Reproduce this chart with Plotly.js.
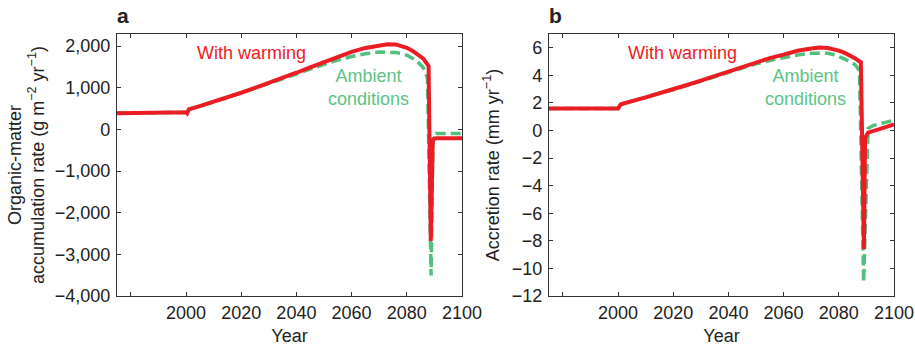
<!DOCTYPE html>
<html>
<head>
<meta charset="utf-8">
<script src="https://cdn.plot.ly/plotly-3.0.1.min.js"></script>
<style>html,body{margin:0;padding:0;background:#fff}#chart{width:915px;height:346px}</style>
</head>
<body>
<div id="chart"></div>
<script>
// Panel a: organic-matter accumulation rate (g m-2 yr-1)
const omWarmYears = [1975, 1990, 1991, 2000, 2000.4, 2001, 2005, 2010, 2015, 2020, 2025, 2030, 2035, 2040, 2045, 2050, 2055, 2060, 2065, 2070, 2073, 2076, 2078, 2080, 2082, 2084, 2086, 2087.9, 2088.7, 2089.4, 2090, 2091, 2100];
const omWarm      = [390, 390, 410, 410, 385, 480, 560, 660, 770, 880, 995, 1110, 1235, 1360, 1490, 1620, 1745, 1860, 1955, 2020, 2045, 2040, 2010, 1960, 1890, 1800, 1700, 1520, -2680, -280, -215, -210, -210];
const omAmbYears  = [1975, 1990, 1991, 2000, 2000.4, 2001, 2005, 2010, 2015, 2020, 2025, 2030, 2035, 2040, 2045, 2050, 2055, 2060, 2065, 2070, 2073, 2076, 2078, 2080, 2082, 2084, 2086, 2087.5, 2088.8, 2089.5, 2090.5, 2100];
const omAmb       = [390, 390, 410, 410, 385, 480, 560, 655, 765, 875, 985, 1100, 1215, 1330, 1450, 1560, 1665, 1750, 1815, 1855, 1860, 1845, 1820, 1780, 1710, 1620, 1480, 1230, -3510, -150, -100, -100];

// Panel b: accretion rate (mm yr-1)
const acWarmYears = [1975, 2000, 2001, 2005, 2010, 2015, 2020, 2025, 2030, 2035, 2040, 2045, 2050, 2055, 2060, 2065, 2070, 2073, 2076, 2078, 2080, 2082, 2084, 2086, 2088.0, 2089.1, 2089.5, 2090.6, 2095, 2100];
const acWarm      = [1.6, 1.6, 1.9, 2.1, 2.4, 2.7, 2.97, 3.3, 3.62, 3.95, 4.3, 4.62, 4.95, 5.25, 5.5, 5.78, 5.95, 6.02, 5.98, 5.92, 5.8, 5.65, 5.45, 5.22, 4.95, -8.6, -0.55, -0.15, 0.12, 0.45];
const acAmbYears  = [1975, 2000, 2001, 2005, 2010, 2015, 2020, 2025, 2030, 2035, 2040, 2045, 2050, 2055, 2060, 2065, 2070, 2073, 2076, 2078, 2080, 2082, 2084, 2086, 2087.5, 2089.0, 2090.6, 2092.4, 2100];
const acAmb       = [1.6, 1.6, 1.9, 2.1, 2.4, 2.7, 2.95, 3.27, 3.58, 3.9, 4.22, 4.53, 4.83, 5.08, 5.3, 5.48, 5.6, 5.63, 5.6, 5.52, 5.38, 5.2, 5.0, 4.75, 4.35, -11.0, 0.14, 0.36, 0.75];

const xTickVals = [1980, 2000, 2020, 2040, 2060, 2080, 2100];
const xTickText = ['', '2000', '2020', '2040', '2060', '2080', '2100'];
const omTickVals = [-4000, -3000, -2000, -1000, 0, 1000, 2000];
const acTickVals = [-12, -10, -8, -6, -4, -2, 0, 2, 4, 6];

const RED = '#ec1c24', GREEN = '#52bf7c', GREEN_TXT = '#5cc486';
const FONT = 'Liberation Sans, Arial, Helvetica, sans-serif';

const traces = [
  {x: omAmbYears, y: omAmb, xaxis: 'x', yaxis: 'y', mode: 'lines', line: {color: GREEN, width: 3.5, dash: '10px,5px'}, hoverinfo: 'skip'},
  {x: omWarmYears, y: omWarm, xaxis: 'x', yaxis: 'y', mode: 'lines', line: {color: RED, width: 4}, hoverinfo: 'skip'},
  {x: acAmbYears, y: acAmb, xaxis: 'x2', yaxis: 'y2', mode: 'lines', line: {color: GREEN, width: 3.5, dash: '10px,5px'}, hoverinfo: 'skip'},
  {x: acWarmYears, y: acWarm, xaxis: 'x2', yaxis: 'y2', mode: 'lines', line: {color: RED, width: 4}, hoverinfo: 'skip'}
];

const axCommon = {
  showline: true, linecolor: '#333', linewidth: 1.2, mirror: 'allticks',
  ticks: 'inside', ticklen: 4, tickcolor: '#333', tickwidth: 1,
  showgrid: false, zeroline: false, fixedrange: true,
  tickfont: {family: FONT, size: 18, color: '#222'}
};

const xCommon = Object.assign({}, axCommon, {
  range: [1975, 2100], tickvals: xTickVals, ticktext: xTickText,
  title: {text: 'Year', font: {family: FONT, size: 18, color: '#222'}, standoff: 10}
});

const layout = {
  width: 915, height: 346,
  margin: {l: 117, r: 21, t: 34, b: 50},
  paper_bgcolor: '#fff', plot_bgcolor: '#fff',
  showlegend: false,
  font: {family: FONT, color: '#222'},
  xaxis: Object.assign({}, xCommon, {domain: [0, 0.444], anchor: 'y'}),
  xaxis2: Object.assign({}, xCommon, {domain: [0.556, 1], anchor: 'y2'}),
  yaxis: Object.assign({}, axCommon, {
    domain: [0, 1], anchor: 'x', range: [-4000, 2290], tickvals: omTickVals, tickformat: ',', ticklabelstandoff: 2,
    title: {text: 'Organic-matter<br>accumulation rate (g m<sup>−2</sup> yr<sup>−1</sup>)', font: {family: FONT, size: 18, color: '#222'}, standoff: 5}
  }),
  yaxis2: Object.assign({}, axCommon, {
    domain: [0, 1], anchor: 'x2', range: [-12, 7], tickvals: acTickVals, ticklabelstandoff: 2,
    title: {text: 'Accretion rate (mm yr<sup>−1</sup>)', font: {family: FONT, size: 18, color: '#222'}, standoff: 7}
  }),
  annotations: [
    {xref: 'paper', yref: 'paper', x: -0.002, y: 1.069, xanchor: 'left', yanchor: 'middle', text: '<b>a</b>', showarrow: false, font: {family: FONT, size: 21, color: '#222'}},
    {xref: 'paper', yref: 'paper', x: 0.554, y: 1.069, xanchor: 'left', yanchor: 'middle', text: '<b>b</b>', showarrow: false, font: {family: FONT, size: 21, color: '#222'}},
    {xref: 'x', yref: 'y', x: 2023.9, y: 1827, text: 'With warming', showarrow: false, font: {family: FONT, size: 18, color: RED}},
    {xref: 'x', yref: 'y', x: 2066.2, y: 998, text: 'Ambient<br>conditions', showarrow: false, font: {family: FONT, size: 18, color: GREEN_TXT}},
    {xref: 'x2', yref: 'y2', x: 2023.2, y: 5.59, text: 'With warming', showarrow: false, font: {family: FONT, size: 18, color: RED}},
    {xref: 'x2', yref: 'y2', x: 2067.8, y: 3.09, text: 'Ambient<br>conditions', showarrow: false, font: {family: FONT, size: 18, color: GREEN_TXT}}
  ]
};

Plotly.newPlot('chart', traces, layout, {displayModeBar: false, staticPlot: true});
</script>
</body>
</html>
